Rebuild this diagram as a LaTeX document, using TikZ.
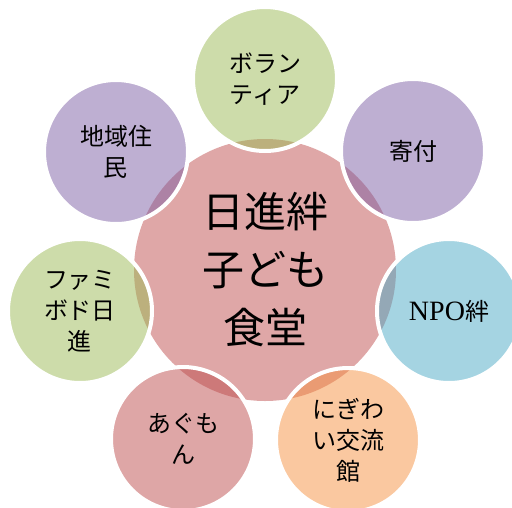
\documentclass[tikz,border=0pt]{standalone}
\usepackage{fontspec}
\setmainfont{Liberation Serif}
\newfontfamily\jp{Noto Sans CJK JP}

\definecolor{hubpink}{RGB}{223,167,167}
\definecolor{satgreen}{RGB}{155,185,85}
\definecolor{satpurple}{RGB}{125,95,165}
\definecolor{satblue}{RGB}{75,169,197}
\definecolor{satorange}{RGB}{245,145,65}
\definecolor{satred}{RGB}{189,77,77}

\tikzset{
  hub/.style={circle, fill=hubpink, minimum size=262pt, inner sep=0pt,
    align=center, font=\jp\fontsize{42}{58}\selectfont},
  sat/.style={circle, draw=white, line width=4pt, fill opacity=0.5,
    text opacity=1, minimum size=144pt, inner sep=0pt, align=center,
    font=\jp\fontsize{24}{31}\selectfont}
}

\begin{document}
\begin{tikzpicture}[x=1pt,y=-1pt]
  \useasboundingbox (0,0) rectangle (512,507);
  \clip (0,0) rectangle (512,507);

  % centre
  \node[hub] (hub) at (265,270) {日進絆\\子ども\\食堂};

  % satellites
  \node[sat, fill=satgreen]  (volunteer) at (265,79)  {ボラン\\ティア};
  \node[sat, fill=satpurple] (donation)  at (413,151) {寄付};
  \node[sat, fill=satblue]   (npo)       at (449,311) {{\rmfamily\fontsize{28}{31}\selectfont NPO}絆};
  \node[sat, fill=satorange] (nigiwai)   at (348,440) {にぎわ\\い交流\\館};
  \node[sat, fill=satred]    (agumon)    at (183,439) {あぐも\\ん};
  \node[sat, fill=satgreen]  (family)    at (80,311)  {ファミ\\ボド日\\進};
  \node[sat, fill=satpurple] (residents) at (116,152) {地域住\\民};
\end{tikzpicture}
\end{document}
